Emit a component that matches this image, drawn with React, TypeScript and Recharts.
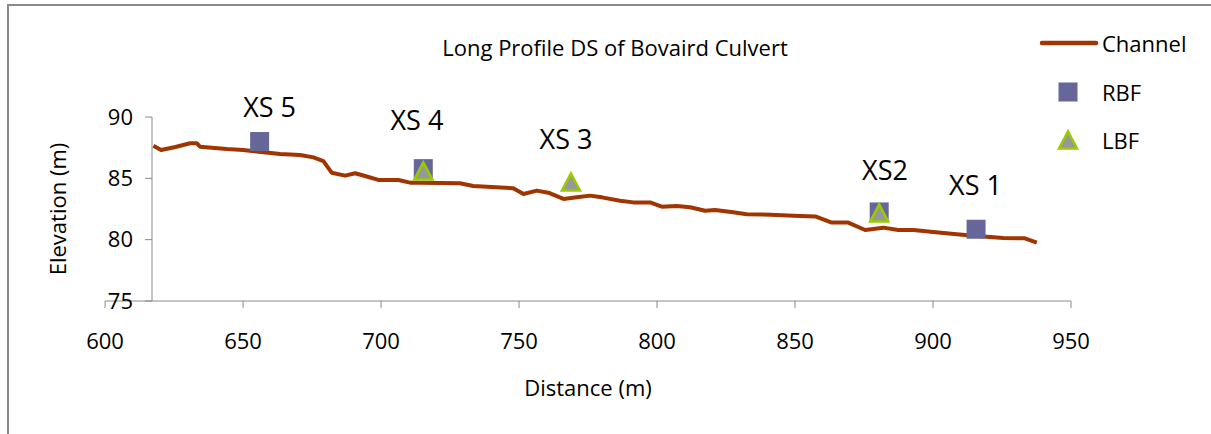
import React from "react";
import {
    ComposedChart, Line, Scatter, XAxis, YAxis, Legend, ReferenceLine, ReferenceDot
} from "recharts";

// long profile survey, downstream of the culvert
const channelDistance = [
    617.5, 620.3, 625.5, 630.8, 633.2, 634.4, 644.1, 650.1, 657.4, 663.4, 670.7, 675.5,
    679.1, 682.1, 687.0, 690.6, 694.2, 699.0, 706.3, 710.5, 714.1, 728.6, 733.4, 747.9,
    751.6, 756.4, 760.6, 766.1, 770.9, 775.7, 780.0, 786.6, 791.4, 797.5, 801.7, 807.1,
    812.0, 817.4, 821.0, 827.6, 832.5, 841.0, 851.8, 857.6, 863.3, 869.3, 875.4, 882.0,
    887.4, 892.9, 900.1, 908.6, 915.8, 925.5, 933.3, 937.6,
];
const channelElevation = [
    87.66, 87.31, 87.55, 87.86, 87.86, 87.58, 87.39, 87.31, 87.12, 86.98, 86.90, 86.71,
    86.41, 85.46, 85.22, 85.41, 85.19, 84.87, 84.87, 84.65, 84.65, 84.60, 84.38, 84.19,
    83.72, 84.00, 83.83, 83.32, 83.45, 83.59, 83.45, 83.18, 83.04, 83.04, 82.69, 82.75,
    82.64, 82.36, 82.42, 82.23, 82.07, 82.04, 81.93, 81.88, 81.39, 81.39, 80.79, 80.98,
    80.79, 80.79, 80.63, 80.44, 80.30, 80.14, 80.11, 79.76,
];

// right bank full / left bank full at the cross sections
const rbfDistance = [656.0, 715.3, 880.5, 915.6];
const rbfElevation = [88.0, 85.79, 82.26, 80.85];
const lbfDistance = [715.3, 768.8, 880.5];
const lbfElevation = [85.6, 84.7, 82.18];

// cross section labels (placed where Excel put them)
const xsNames = ["XS 5", "XS 4", "XS 3", "XS2", "XS 1"];
const xsLabelDistance = [659.6, 713.0, 767.0, 882.6, 915.4];
const xsLabelElevation = [90.82, 89.78, 88.21, 85.72, 84.48];

const X_TICKS = [600, 650, 700, 750, 800, 850, 900, 950];
const Y_TICKS = [75, 80, 85, 90];
const AXIS_CROSS = 617; // where the vertical axis crosses the distance axis
const LEGEND_ORDER = ["Channel", "RBF", "LBF"];

const channel = channelDistance.map((d, i) => ({ distance: d, elevation: channelElevation[i] }));
const rbf = rbfDistance.map((d, i) => ({ distance: d, elevation: rbfElevation[i] }));
const lbf = lbfDistance.map((d, i) => ({ distance: d, elevation: lbfElevation[i] }));
const xsLabels = xsNames.map((name, i) => ({
    name, distance: xsLabelDistance[i], elevation: xsLabelElevation[i],
}));

const CHANNEL_COLOR = "#A13500";
const RBF_COLOR = "#666699";
const LBF_FILL = "#979797";
const LBF_STROKE = "#99CC00";
const AXIS_COLOR = "#8a8a8a";
const FONT = "'Open Sans', sans-serif";

const Square = (props: any) => (
    <rect x={props.cx - 9.5} y={props.cy - 9.5} width={19} height={19} fill={RBF_COLOR} />
);

const Triangle = (props: any) => {
    const { cx, cy } = props;
    return (
        <polygon
            points={`${cx - 9},${cy + 8.5} ${cx + 9},${cy + 8.5} ${cx},${cy - 8.5}`}
            fill={LBF_FILL}
            stroke={LBF_STROKE}
            strokeWidth={2.5}
        />
    );
};

const LegendIcon = ({ name }: { name: string }) => (
    <svg width={64} height={24}>
        {name === "Channel" && (
            <line x1={6} x2={60} y1={12} y2={12} stroke={CHANNEL_COLOR} strokeWidth={4.5} strokeLinecap="round" />
        )}
        {name === "RBF" && <Square cx={32} cy={12} />}
        {name === "LBF" && <Triangle cx={32} cy={12} />}
    </svg>
);

const renderLegend = (props: any) => {
    const present = (props.payload || []).map((p: any) => p.value);
    const items = LEGEND_ORDER.filter((n) => present.includes(n));
    return (
        <div style={{ fontFamily: FONT, fontSize: 22, color: "#000" }}>
            {items.map((name: string) => (
                <div key={name} style={{ display: "flex", alignItems: "center", height: 48.5 }}>
                    <LegendIcon name={name} />
                    <span style={{ marginLeft: 2, lineHeight: "24px" }}>{name}</span>
                </div>
            ))}
        </div>
    );
};

export default function App() {
    return (
        <div style={{ position: "absolute", left: 0, top: 0, width: 1211, height: 434, overflow: "hidden", background: "#fff", fontFamily: FONT }}>
            <div style={{ position: "absolute", left: 7, top: 4, width: 1300, height: 500, border: `2px solid ${AXIS_COLOR}` }} />
            <ComposedChart
                width={1211}
                height={434}
                margin={{ top: 117, right: 140, left: 0, bottom: 73 }}
                style={{ position: "absolute", left: 0, top: 0 }}
            >
                <text x={615} y={56} textAnchor="middle" fontSize={22} fill="#000">
                    Long Profile DS of Bovaird Culvert
                </text>
                <text x={588} y={396} textAnchor="middle" fontSize={22} fill="#000">
                    Distance (m)
                </text>
                <text x={66} y={209} textAnchor="middle" fontSize={22} fill="#000" transform="rotate(-90 66 209)">
                    Elevation (m)
                </text>
                <XAxis
                    type="number"
                    dataKey="distance"
                    domain={[AXIS_CROSS, 950]}
                    allowDataOverflow
                    ticks={X_TICKS}
                    interval={0}
                    height={60}
                    axisLine={false}
                    tickSize={7}
                    tickMargin={25}
                    tickLine={{ stroke: AXIS_COLOR }}
                    tick={{ fill: "#000", fontSize: 22 }}
                />
                <YAxis
                    type="number"
                    dataKey="elevation"
                    domain={[75, 90]}
                    allowDataOverflow
                    ticks={Y_TICKS}
                    interval={0}
                    width={152}
                    tickSize={7}
                    tickMargin={12}
                    axisLine={{ stroke: AXIS_COLOR }}
                    tickLine={{ stroke: AXIS_COLOR }}
                    tick={{ fill: "#000", fontSize: 22 }}
                />
                <ReferenceLine
                    segment={[{ x: 600, y: 75 }, { x: 950, y: 75 }]}
                    stroke={AXIS_COLOR}
                    ifOverflow="visible"
                />
                <Line
                    data={channel}
                    dataKey="elevation"
                    name="Channel"
                    type="linear"
                    stroke={CHANNEL_COLOR}
                    strokeWidth={4}
                    strokeLinejoin="round"
                    dot={false}
                    isAnimationActive={false}
                />
                <Scatter data={rbf} name="RBF" shape={Square} isAnimationActive={false} />
                <Scatter data={lbf} name="LBF" shape={Triangle} isAnimationActive={false} />
                {xsLabels.map((l) => (
                    <ReferenceDot
                        key={l.name}
                        x={l.distance}
                        y={l.elevation}
                        r={0}
                        ifOverflow="visible"
                        shape={(p: any) => (
                            <text x={p.cx} y={p.cy} textAnchor="middle" dominantBaseline="central" fontSize={27} fill="#000">
                                {l.name}
                            </text>
                        )}
                    />
                ))}
                <Legend
                    layout="vertical"
                    align="center"
                    verticalAlign="middle"
                    wrapperStyle={{ left: 1036, top: 19, width: 175 }}
                    content={renderLegend}
                />
            </ComposedChart>
        </div>
    );
}
